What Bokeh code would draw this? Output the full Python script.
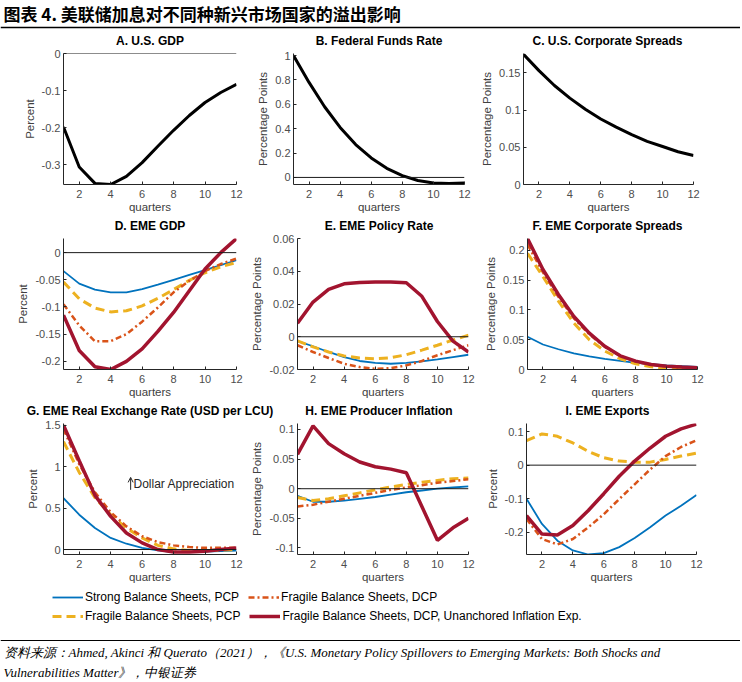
from bokeh.plotting import figure
from bokeh.layouts import column, row
from bokeh.models import (Range1d, FixedTicker, CustomJSTickFormatter, Span, Label,
                          Arrow, OpenHead, Legend, LegendItem)
from bokeh.core.properties import value
from bokeh.embed import file_html
from bokeh.resources import INLINE

# ---------------- data ----------------
quarters = [1, 2, 3, 4, 5, 6, 7, 8, 9, 10, 11, 12]

us_gdp = [-0.198, -0.306, -0.350, -0.353, -0.331, -0.294, -0.250, -0.207, -0.167, -0.132, -0.105, -0.083]
fed_funds = [1.0, 0.78, 0.58, 0.41, 0.27, 0.16, 0.075, 0.015, -0.025, -0.045, -0.05, -0.046]
us_spreads = [0.175, 0.153, 0.133, 0.116, 0.101, 0.088, 0.077, 0.067, 0.058, 0.051, 0.044, 0.039]

gdp_strong_pcp = [-0.034, -0.057, -0.068, -0.073, -0.073, -0.067, -0.059, -0.050, -0.041, -0.032, -0.023, -0.014]
gdp_fragile_pcp = [-0.054, -0.085, -0.102, -0.109, -0.107, -0.098, -0.084, -0.068, -0.051, -0.037, -0.026, -0.018]
gdp_fragile_dcp = [-0.095, -0.134, -0.163, -0.163, -0.150, -0.127, -0.101, -0.073, -0.052, -0.034, -0.021, -0.011]
gdp_unanchored = [-0.115, -0.180, -0.210, -0.215, -0.200, -0.177, -0.145, -0.110, -0.070, -0.030, 0.000, 0.026]

pol_strong_pcp = [-0.0027, -0.0058, -0.0093, -0.0124, -0.0148, -0.0160, -0.0165, -0.0160, -0.0150, -0.0138, -0.0124, -0.0110]
pol_fragile_pcp = [-0.0025, -0.0062, -0.0093, -0.0117, -0.0130, -0.0134, -0.0128, -0.0110, -0.0082, -0.0052, -0.0020, 0.0010]
pol_fragile_dcp = [-0.0052, -0.0093, -0.0130, -0.0165, -0.0185, -0.0196, -0.0192, -0.0175, -0.0148, -0.0113, -0.0082, -0.0052]
pol_unanchored = [0.0082, 0.0212, 0.0289, 0.0323, 0.0332, 0.0334, 0.0334, 0.0330, 0.0247, 0.0093, -0.0027, -0.0093]

spr_strong_pcp = [0.055, 0.042, 0.034, 0.027, 0.022, 0.018, 0.0145, 0.011, 0.009, 0.0067, 0.0056, 0.0045]
spr_fragile_pcp = [0.195, 0.156, 0.115, 0.078, 0.050, 0.031, 0.018, 0.0095, 0.0045, 0.002, 0.001, 0.001]
spr_fragile_dcp = [0.210, 0.163, 0.122, 0.086, 0.059, 0.038, 0.023, 0.013, 0.008, 0.005, 0.003, 0.002]
spr_unanchored = [0.220, 0.168, 0.126, 0.089, 0.061, 0.039, 0.023, 0.014, 0.0084, 0.0056, 0.004, 0.003]

rer_strong_pcp = [0.62, 0.42, 0.26, 0.14, 0.07, 0.02, -0.01, -0.03, -0.03, -0.025, -0.02, -0.012]
rer_fragile_pcp = [1.30, 0.93, 0.625, 0.42, 0.26, 0.14, 0.05, 0.008, -0.012, -0.012, -0.008, 0.0]
rer_fragile_dcp = [1.45, 1.03, 0.69, 0.45, 0.28, 0.16, 0.09, 0.05, 0.03, 0.02, 0.02, 0.02]
rer_unanchored = [1.50, 1.07, 0.653, 0.40, 0.20, 0.08, 0.0, -0.03, -0.03, -0.02, 0.0, 0.02]

ppi_strong_pcp = [-0.012, -0.022, -0.022, -0.020, -0.017, -0.014, -0.010, -0.006, -0.003, 0.000, 0.002, 0.004]
ppi_fragile_pcp = [-0.015, -0.020, -0.017, -0.012, -0.007, -0.002, 0.003, 0.007, 0.011, 0.014, 0.017, 0.018]
ppi_fragile_dcp = [-0.030, -0.027, -0.022, -0.017, -0.012, -0.007, -0.002, 0.002, 0.006, 0.010, 0.013, 0.016]
ppi_unanchored = [0.058, 0.106, 0.076, 0.059, 0.045, 0.037, 0.033, 0.027, -0.030, -0.087, -0.066, -0.050]

exp_strong_pcp = [-0.100, -0.175, -0.225, -0.254, -0.266, -0.262, -0.244, -0.217, -0.185, -0.150, -0.121, -0.089]
exp_fragile_pcp = [0.073, 0.093, 0.086, 0.066, 0.041, 0.022, 0.012, 0.009, 0.009, 0.017, 0.027, 0.036]
exp_fragile_dcp = [-0.160, -0.220, -0.236, -0.220, -0.185, -0.146, -0.101, -0.057, -0.013, 0.027, 0.054, 0.074]
exp_unanchored = [-0.150, -0.205, -0.208, -0.180, -0.135, -0.085, -0.033, 0.012, 0.051, 0.086, 0.108, 0.122]

series_labels = ["Strong Balance Sheets, PCP", "Fragile Balance Sheets, PCP",
                 "Fragile Balance Sheets, DCP", "Fragile Balance Sheets, DCP, Unanchored Inflation Exp."]

panel_titles = ["A. U.S. GDP", "B. Federal Funds Rate", "C. U.S. Corporate Spreads",
                "D. EME GDP", "E. EME Policy Rate", "F. EME Corporate Spreads",
                "G. EME Real Exchange Rate (USD per LCU)", "H. EME Producer Inflation", "I. EME Exports"]

y_labels = ["Percent", "Percentage Points", "Percentage Points",
            "Percent", "Percentage Points", "Percentage Points",
            "Percent", "Percentage Points", "Percent"]

y_ranges = [(-0.353, 0.0), (-0.058, 1.017), (0.0, 0.176),
            (-0.215, 0.026), (-0.02, 0.06), (0.0, 0.22),
            (-0.06, 1.52), (-0.111, 0.11), (-0.266, 0.124)]

y_ticks = [[-0.3, -0.2, -0.1, 0], [0, 0.2, 0.4, 0.6, 0.8, 1], [0, 0.05, 0.1, 0.15],
           [-0.2, -0.15, -0.1, -0.05, 0], [-0.02, 0, 0.02, 0.04, 0.06], [0, 0.05, 0.1, 0.15, 0.2],
           [0, 0.5, 1, 1.5], [-0.1, -0.05, 0, 0.05, 0.1], [-0.2, -0.1, 0, 0.1]]
x_ticks = [2, 4, 6, 8, 10, 12]

panel_data = [
    [("us", us_gdp)], [("us", fed_funds)], [("us", us_spreads)],
    [(0, gdp_strong_pcp), (1, gdp_fragile_pcp), (2, gdp_fragile_dcp), (3, gdp_unanchored)],
    [(0, pol_strong_pcp), (1, pol_fragile_pcp), (2, pol_fragile_dcp), (3, pol_unanchored)],
    [(0, spr_strong_pcp), (1, spr_fragile_pcp), (2, spr_fragile_dcp), (3, spr_unanchored)],
    [(0, rer_strong_pcp), (1, rer_fragile_pcp), (2, rer_fragile_dcp), (3, rer_unanchored)],
    [(0, ppi_strong_pcp), (1, ppi_fragile_pcp), (2, ppi_fragile_dcp), (3, ppi_unanchored)],
    [(0, exp_strong_pcp), (1, exp_fragile_pcp), (2, exp_fragile_dcp), (3, exp_unanchored)],
]
zero_line = [True, True, False, True, True, False, True, True, True]

# ---------------- style ----------------
FONT = "Liberation Sans"
TOTAL_W = 740
STYLES = {
    "us": dict(line_color="black", line_width=3),
    0: dict(line_color="#0072BD", line_width=1.8),
    1: dict(line_color="#EDB120", line_width=3, line_dash="9 5"),
    2: dict(line_color="#D95319", line_width=2.5, line_dash="6 3 2 3"),
    3: dict(line_color="#A2142F", line_width=3.5),
}
# column geometry: (left border, frame width, right border)
COLS = [(63, 173, 12), (45, 171, 14), (44, 170, 48)]
FRAME_H = 131
STRIP_H = 18
TOP_B = 5
BOT_B = 31

fmt = CustomJSTickFormatter(code="return String(Math.round(tick*1000)/1000)")


def make_panel(i):
    lb, fw, rb = COLS[i % 3]
    p = figure(frame_width=fw, frame_height=FRAME_H, min_border_left=lb, min_border_right=rb,
               min_border_top=TOP_B, min_border_bottom=BOT_B,
               x_range=Range1d(1, 12), y_range=Range1d(*y_ranges[i]),
               output_backend="svg", toolbar_location=None)
    p.outline_line_color = None
    p.grid.visible = False
    p.background_fill_color = "white"
    p.border_fill_color = "white"
    for ax in (p.xaxis[0], p.yaxis[0]):
        ax.axis_line_color = "#262626"
        ax.axis_line_width = 1
        ax.major_tick_line_color = "#262626"
        ax.major_tick_in = 3
        ax.major_tick_out = 0
        ax.minor_tick_line_color = None
        ax.major_label_text_font = FONT
        ax.major_label_text_font_size = "11px"
        ax.major_label_text_color = "#4d4d4d"
        ax.axis_label_text_font = FONT
        ax.axis_label_text_font_size = "11.5px"
        ax.axis_label_text_font_style = "normal"
        ax.axis_label_text_color = "#404040"
    p.xaxis.ticker = FixedTicker(ticks=x_ticks)
    p.yaxis.ticker = FixedTicker(ticks=y_ticks[i])
    p.yaxis.formatter = fmt
    p.xaxis.axis_label = "quarters"
    p.yaxis.axis_label = y_labels[i]
    p.xaxis.major_label_standoff = 5
    p.xaxis.axis_label_standoff = 0
    p.yaxis.major_label_standoff = 3
    p.yaxis.axis_label_standoff = 3
    if zero_line[i]:
        p.add_layout(Span(location=0, dimension="width", line_color="#1a1a1a", line_width=1))
    for key, ys in panel_data[i]:
        p.line(quarters, ys, **STYLES[key])
    return p


panels = [make_panel(i) for i in range(9)]

# annotation in panel G
arrow_x, arrow_y0, arrow_y1 = 5.27, 0.72, 0.87
note_x, note_y = 5.45, 0.79
panels[6].add_layout(Arrow(end=OpenHead(size=5, line_width=1, line_color="#262626"),
                           x_start=arrow_x, y_start=arrow_y0, x_end=arrow_x, y_end=arrow_y1,
                           line_width=1, line_color="#262626"))
panels[6].add_layout(Label(x=note_x, y=note_y, text="Dollar Appreciation", text_baseline="middle",
                           text_font=FONT, text_font_size="12px", text_color="#262626"))


def blank(h):
    p = figure(frame_width=TOTAL_W, frame_height=h, x_range=Range1d(0, TOTAL_W), y_range=Range1d(h, 0),
               x_axis_type=None, y_axis_type=None, min_border=0,
               output_backend="svg", toolbar_location=None)
    p.outline_line_color = None
    p.grid.visible = False
    return p


def title_strip(r):
    s = blank(STRIP_H)
    centers = []
    x0 = 0
    for lb, fw, rb in COLS:
        centers.append(x0 + lb + fw / 2)
        x0 += lb + fw + rb
    s.text(x=centers, y=[10, 10, 10], text=panel_titles[3 * r:3 * r + 3], text_align="center",
           text_baseline="middle", text_font=value(FONT), text_font_style="bold",
           text_font_size="12px", text_color="black")
    return s


# header
header = blank(30)
header.text(x=[3], y=[13], text=["图表 4.  美联储加息对不同种新兴市场国家的溢出影响"], text_align="left",
            text_baseline="middle", text_font=value("Noto Sans CJK SC"), text_font_style="bold",
            text_font_size="17px", text_color="black")
header.segment(x0=[0], y0=[27], x1=[TOTAL_W], y1=[27], line_color="black", line_width=1.5)

# legend
leg = blank(45)
off_x = [-100, -90]
off_y = [-100, -100]
rs = [leg.line(x=off_x, y=off_y, **STYLES[k]) for k in range(4)]


def make_legend(items, loc):
    return Legend(items=items, location=loc, orientation="horizontal", padding=0, margin=0,
                  spacing=9, glyph_width=31, glyph_height=14, label_height=14, label_standoff=2,
                  label_text_font=FONT, label_text_font_size="12px", label_text_color="black",
                  border_line_color=None, background_fill_alpha=0)


leg.add_layout(make_legend([LegendItem(label=series_labels[0], renderers=[rs[0]]),
                            LegendItem(label=series_labels[2], renderers=[rs[2]])], (52, 26)))
leg.add_layout(make_legend([LegendItem(label=series_labels[1], renderers=[rs[1]]),
                            LegendItem(label=series_labels[3], renderers=[rs[3]])], (52, 7)))

# footer
footer = blank(50)
footer.segment(x0=[0], y0=[10], x1=[TOTAL_W], y1=[10], line_color="black", line_width=1)
source_lines = ["资料来源：Ahmed, Akinci 和 Querato（2021），《U.S. Monetary Policy Spillovers to Emerging Markets: Both Shocks and",
                "Vulnerabilities Matter》，中银证券"]
footer.text(x=[3, 3], y=[22, 42], text=source_lines, text_align="left", text_baseline="middle",
            text_font=value("Liberation Serif"), text_font_style="italic", text_font_size="13px",
            text_color="black")

layout = column(
    header,
    title_strip(0), row(*panels[0:3]),
    title_strip(1), row(*panels[3:6]),
    title_strip(2), row(*panels[6:9]),
    leg, footer,
)

open("out.html", "w").write(file_html(layout, INLINE))
